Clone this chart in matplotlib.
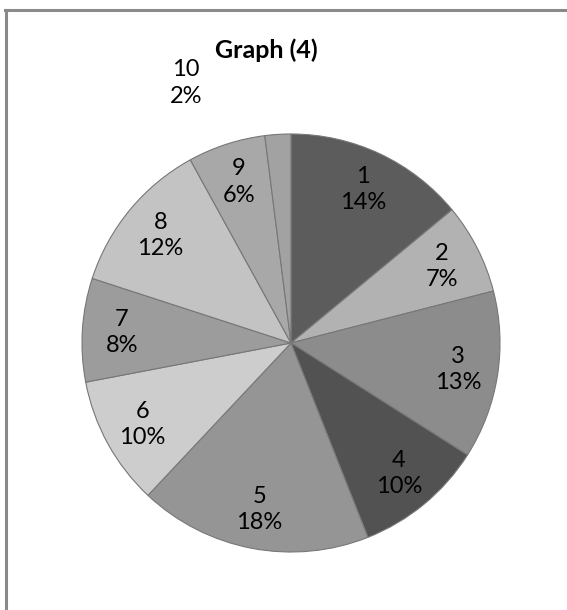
import matplotlib
matplotlib.use("Agg")
import matplotlib.pyplot as plt
from matplotlib.lines import Line2D

categories = ["1", "2", "3", "4", "5", "6", "7", "8", "9", "10"]
values = [14, 7, 13, 10, 18, 10, 8, 12, 6, 2]
colors = ["#5c5c5c", "#b2b2b2", "#8c8c8c", "#525252", "#959595",
          "#cdcdcd", "#9c9c9c", "#c3c3c3", "#a8a8a8", "#a2a2a2"]
title = "Graph (4)"

W, H, DPI = 567, 610, 100
fig = plt.figure(figsize=(W / DPI, H / DPI), dpi=DPI)
fig.patch.set_facecolor("white")

# frame lines (top and left only)
fig.add_artist(Line2D([5 / W, 1], [1 - 9.5 / H, 1 - 9.5 / H], transform=fig.transFigure,
                      color="#8a8a8a", lw=2.2))
fig.add_artist(Line2D([5.5 / W, 5.5 / W], [0, 1 - 9.5 / H], transform=fig.transFigure,
                      color="#8a8a8a", lw=2.2))

cx, cy, R = 291, 343, 209
ax = fig.add_axes([(cx - R) / W, 1 - (cy + R) / H, 2 * R / W, 2 * R / H])
total = sum(values)
labels = [f"{c}\n{round(100 * v / total)}%" for c, v in zip(categories, values)]
wedges, texts = ax.pie(values, labels=labels, colors=colors, startangle=90,
                       counterclock=False, labeldistance=0.81,
                       wedgeprops=dict(edgecolor="#777777", linewidth=0.8),
                       textprops=dict(fontsize=17, family="Lato", ha="center",
                                      va="center", linespacing=1.3))
for t in texts:
    t.set_ha("center")
    t.set_va("center")
# last label sits outside, above-left
texts[-1].set_position((-105 / R, 260 / R))
ax.set_xlim(-1, 1)
ax.set_ylim(-1, 1)
ax.set_aspect("equal")
ax.axis("off")

fig.text(266 / W, 1 - 50 / H, title, ha="center", va="center",
         fontsize=18, fontweight="bold", family="Lato")

fig.savefig("out.png", dpi=DPI, facecolor="white")
